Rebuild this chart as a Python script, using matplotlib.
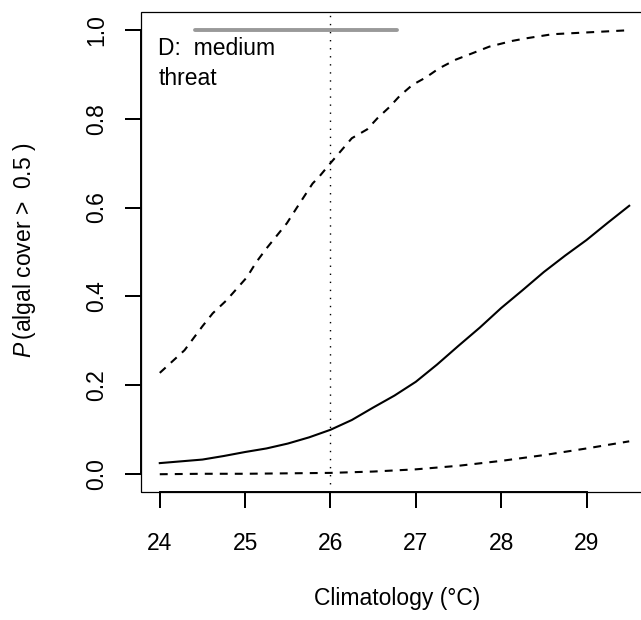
import matplotlib
matplotlib.use('Agg')
import matplotlib.pyplot as plt
import matplotlib.transforms as mtransforms
from matplotlib.patches import Rectangle

plt.rcParams['font.family'] = ['Liberation Sans', 'DejaVu Sans']
plt.rcParams['mathtext.fontset'] = 'custom'
plt.rcParams['mathtext.rm'] = 'Liberation Sans'
plt.rcParams['mathtext.it'] = 'Liberation Sans:italic'

# --- data ---
mean_x = [24.0, 24.25, 24.5, 24.75, 25.0, 25.25, 25.5, 25.75, 26.0, 26.25, 26.5, 26.75,
          27.0, 27.25, 27.5, 27.75, 28.0, 28.25, 28.5, 28.75, 29.0, 29.25, 29.5]
mean_y = [0.025, 0.029, 0.033, 0.041, 0.050, 0.058, 0.069, 0.083, 0.100, 0.122, 0.150, 0.177,
          0.208, 0.247, 0.289, 0.330, 0.374, 0.414, 0.455, 0.492, 0.527, 0.566, 0.604]

lower_x = [24.0, 24.5, 25.0, 25.5, 26.0, 26.5, 27.0, 27.5, 28.0, 28.5, 29.0, 29.5]
lower_y = [0.000, 0.001, 0.001, 0.002, 0.003, 0.006, 0.011, 0.019, 0.030, 0.043, 0.058, 0.074]

upper_x = [24.0, 24.29, 24.5, 24.62, 24.78, 25.02, 25.13, 25.25, 25.49, 25.6, 25.79, 25.87,
           26.0, 26.25, 26.43, 26.55, 26.69, 26.81, 26.96, 27.12, 27.27, 27.47, 27.66,
           27.86, 28.13, 28.3, 28.6, 29.0, 29.5]
upper_y = [0.228, 0.279, 0.333, 0.362, 0.391, 0.443, 0.477, 0.508, 0.565, 0.598, 0.654, 0.670,
           0.700, 0.756, 0.776, 0.801, 0.826, 0.851, 0.876, 0.893, 0.913, 0.933, 0.947,
           0.962, 0.975, 0.981, 0.990, 0.994, 0.999]

threshold_x = 26.0
range_x = [24.41, 26.78]
range_y = [1.0, 1.0]

x_ticks = [24, 25, 26, 27, 28, 29]
y_ticks = [0.0, 0.2, 0.4, 0.6, 0.8, 1.0]
y_ticklabels = ['0.0', '0.2', '0.4', '0.6', '0.8', '1.0']

FS = 16.5
W, H = 641, 620

fig = plt.figure(figsize=(W / 100, H / 100), dpi=100)
ax = fig.add_axes([141 / W, 1 - 492 / H, 507 / W, 480 / H])
ax.set_xlim(23.78, 29.72)
ax.set_ylim(-0.04, 1.04)

dash = (0, (3.8, 3.4))
ax.plot(mean_x, mean_y, color='black', lw=1.5)
ax.plot(lower_x, lower_y, color='black', lw=1.5, linestyle=dash)
ax.plot(upper_x, upper_y, color='black', lw=1.5, linestyle=dash)
ax.axvline(threshold_x, color='black', lw=1.0, linestyle=(0, (1, 4.8)))
ax.plot(range_x, range_y, color='#999999', lw=2.8, solid_capstyle='round')

ax.text(23.985, 0.958, 'D:  medium', fontsize=FS, ha='left', va='center')
ax.text(23.985, 0.891, 'threat', fontsize=FS, ha='left', va='center')

# R style axes: thin box, thicker axis lines between first and last tick
for s in ['top', 'right']:
    ax.spines[s].set_visible(False)
ax.spines['bottom'].set_bounds(24, 29)
ax.spines['left'].set_bounds(0, 1)
for s in ['bottom', 'left']:
    ax.spines[s].set_linewidth(1.4)
ax.add_patch(Rectangle((0, 0), 1, 1, transform=ax.transAxes, fill=False,
                       lw=0.9, edgecolor='black', clip_on=False))

ax.set_xticks(x_ticks)
ax.set_xticklabels([str(t) for t in x_ticks])
ax.set_yticks(y_ticks)
ax.set_yticklabels(y_ticklabels, rotation=90, va='center')
ax.tick_params(axis='both', which='major', direction='out', length=11.5, width=1.4,
               color='black', labelsize=FS, bottom=True, left=True, top=False, right=False)
ax.tick_params(axis='x', pad=17)
ax.tick_params(axis='y', pad=12)

# tick marks drawn again as plain markers so they always show
xt = mtransforms.blended_transform_factory(ax.transData, ax.transAxes)
yt = mtransforms.blended_transform_factory(ax.transAxes, ax.transData)
ax.plot(x_ticks, [0] * len(x_ticks), transform=xt, ls='none', marker=3,
        markersize=11.5, markeredgewidth=1.4, color='black', clip_on=False)
ax.plot([0] * len(y_ticks), y_ticks, transform=yt, ls='none', marker=0,
        markersize=11.5, markeredgewidth=1.4, color='black', clip_on=False)

fig.text(397 / W, 1 - 598 / H, 'Climatology (\u00b0C)', fontsize=FS, ha='center', va='center')
fig.text(25 / W, 1 - 250 / H, '$P\\,$(algal cover >  0.5 )', fontsize=FS,
         ha='center', va='center', rotation=90)

fig.savefig('out.png', dpi=100)
